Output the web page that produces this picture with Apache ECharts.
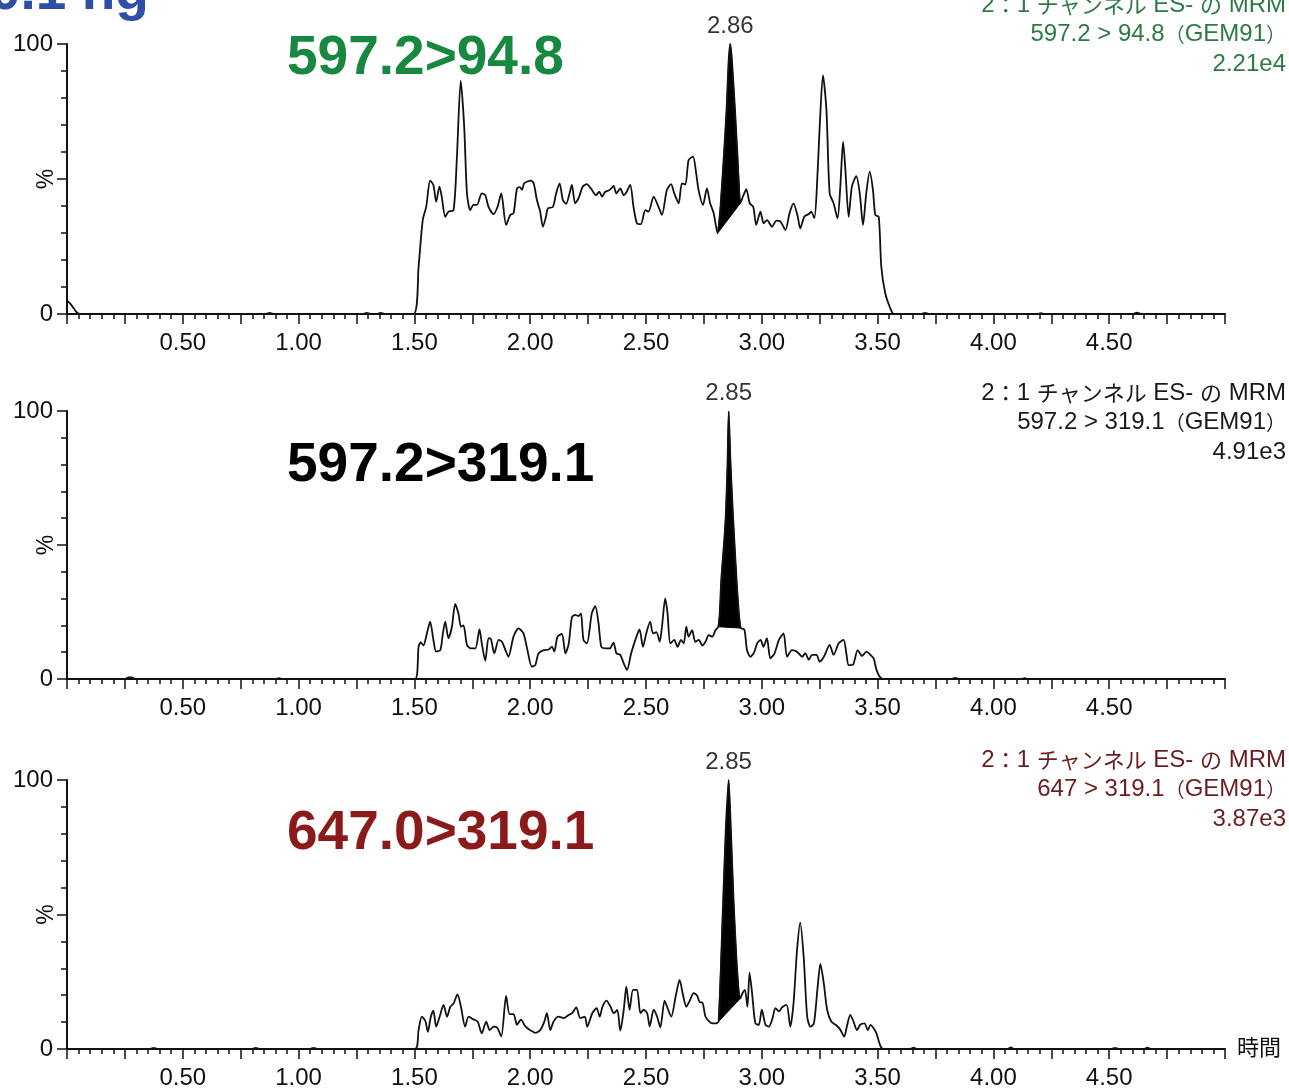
<!DOCTYPE html>
<html>
<head>
<meta charset="utf-8">
<script src="https://cdn.jsdelivr.net/npm/echarts@6/dist/echarts.min.js"></script>
<style>
html, body { margin: 0; padding: 0; background: #fff; }
#chart { width: 1289px; height: 1089px; }
</style>
</head>
<body>
<div id="chart"></div>
<script>
// retention time (min) / relative intensity (%)
var trace1 = [
    [0,4.8],[0.01,4.2],[0.02,3.2],[0.03,2.0],[0.04,0.8],[0.05,0.2],[0.06,0],
    [0.86,0],[0.875,0.4],[0.89,0],[1.28,0],[1.295,0.4],[1.31,0],[1.34,0],[1.355,0.4],[1.37,0],
    [1.496,0],[1.518,17.5],[1.536,34.8],[1.551,39.7],[1.568,49.4],[1.582,47.8],[1.594,41.6],[1.608,47.2],[1.618,43.5],
    [1.633,36],[1.647,37.9],[1.669,38.5],[1.683,57],[1.70,86.4],[1.715,69.4],[1.727,44.7],[1.741,38.5],[1.755,40.4],
    [1.77,40.4],[1.791,44.7],[1.806,44],[1.82,39.7],[1.842,37],[1.859,39.7],[1.875,44.7],[1.896,33],[1.914,36.7],
    [1.928,37.3],[1.943,46.5],[1.955,47],[1.965,46],[1.974,48.4],[2.003,49.4],[2.015,48.4],[2.029,42.2],[2.043,37.9],
    [2.055,32.3],[2.068,36],[2.076,39.1],[2.098,39.7],[2.112,44.7],[2.127,48.4],[2.141,42.2],[2.155,40.8],[2.17,44.7],
    [2.18,47.8],[2.194,41],[2.209,42.9],[2.227,47.2],[2.244,48.1],[2.262,46.5],[2.284,44],[2.298,45.3],[2.31,43.5],
    [2.324,45.3],[2.343,45.9],[2.36,47.4],[2.372,44.7],[2.389,46.5],[2.404,44],[2.415,45],[2.432,47.8],[2.446,39.7],
    [2.461,33.6],[2.478,33.3],[2.497,38.5],[2.511,37.9],[2.533,43.5],[2.554,39.7],[2.569,36.7],[2.59,45.9],[2.608,48.1],
    [2.622,44.7],[2.641,41],[2.655,48.4],[2.67,48],[2.684,57],[2.703,58.3],[2.717,51.9],[2.727,45.9],[2.746,40.4],
    [2.763,46.5],[2.777,41],[2.792,37.4],
    [2.809,29.9],[2.82,38],[2.835,57],[2.848,76],[2.857,94],[2.864,100],[2.871,94],[2.884,76],[2.896,57],[2.907,41],
    [2.921,44],[2.933,46.2],[2.948,41],[2.963,39.7],[2.976,33],[2.994,37.9],[3.008,33.6],[3.023,34.8],[3.044,32.3],
    [3.063,34.6],[3.08,34.3],[3.102,31.1],[3.12,37.4],[3.137,41],[3.155,36.1],[3.166,31.7],[3.184,36.1],[3.203,37],
    [3.213,37.9],[3.227,35.5],[3.238,47.2],[3.25,69.4],[3.264,88.5],[3.279,75.7],[3.293,44.7],[3.31,41],[3.327,35.4],
    [3.339,47.2],[3.351,63.8],[3.361,53.3],[3.375,36],[3.389,47.2],[3.408,51.1],[3.423,44.7],[3.437,33],[3.451,44.7],
    [3.466,52.7],[3.48,45.9],[3.49,36.7],[3.505,36],[3.516,17.5],[3.533,7.7],[3.555,2.1],[3.57,0],
    [3.69,0],[3.705,0.4],[3.72,0],[4.19,0],[4.205,0.3],[4.22,0],[4.6,0],[4.62,0.5],[4.64,0],[5,0]
];
var trace2 = [
    [0,0],[0.25,0],[0.265,0.6],[0.28,0.6],[0.295,0],[0.9,0],[0.915,0.3],[0.93,0],
    [1.503,0],[1.518,12],[1.527,13.7],[1.539,12.5],[1.554,17],[1.568,21.4],[1.582,14.6],[1.594,10.2],[1.612,10.8],
    [1.623,17],[1.633,21.4],[1.647,15.2],[1.662,19.5],[1.676,28],[1.69,24.5],[1.701,19.5],[1.712,20],[1.727,12.7],
    [1.744,11.4],[1.763,11.4],[1.781,18.5],[1.791,13.3],[1.806,6.8],[1.82,15.2],[1.83,15],[1.845,9.6],[1.864,14.6],
    [1.878,13.9],[1.893,10.8],[1.906,8.3],[1.928,15.8],[1.95,18.9],[1.971,17],[1.988,10.8],[2.007,4.6],[2.022,5.2],
    [2.036,9.6],[2.058,10.8],[2.08,11],[2.094,12.1],[2.104,10.2],[2.118,15.8],[2.137,16.8],[2.152,9.6],[2.166,13],
    [2.18,23],[2.194,23.9],[2.209,23.5],[2.219,24.5],[2.23,14.6],[2.245,13.3],[2.266,24.5],[2.281,27.2],[2.295,20.8],
    [2.307,12],[2.324,11.4],[2.343,11.4],[2.36,13.6],[2.372,9.6],[2.389,9],[2.404,5.8],[2.418,3.4],[2.436,9.6],
    [2.454,14.6],[2.472,18.5],[2.487,12],[2.501,17],[2.518,21.4],[2.53,17],[2.545,17.5],[2.559,13.9],[2.569,19.5],
    [2.583,30.1],[2.593,24.5],[2.605,13.3],[2.622,14.6],[2.636,12],[2.651,14.6],[2.663,13.3],[2.674,19.5],[2.684,15.8],
    [2.699,18.2],[2.713,13.9],[2.728,14.6],[2.743,12.5],[2.757,13.9],[2.771,16.4],[2.786,15.8],[2.8,18.2],
    [2.812,19.5],[2.818,24],[2.825,37],[2.838,52],[2.845,62],[2.852,80.5],[2.857,99.8],[2.865,80.5],[2.875,62],
    [2.891,37],[2.901,24.5],[2.909,19],
    [2.925,18.4],[2.936,10.8],[2.951,8.3],[2.966,9.8],[2.98,13.3],[2.995,14.6],[3.007,12],[3.022,15.2],[3.037,7.7],
    [3.055,9.6],[3.074,14.6],[3.094,17],[3.109,8.3],[3.13,10.8],[3.145,10.5],[3.159,9.6],[3.174,8.3],[3.188,9.6],
    [3.203,7.2],[3.217,9],[3.236,9],[3.25,6.5],[3.268,8.3],[3.293,12.7],[3.31,9],[3.332,13.3],[3.353,14.6],[3.365,9.6],
    [3.375,5.2],[3.394,5.4],[3.414,10.8],[3.433,8.6],[3.452,10.2],[3.469,9],[3.483,7.7],[3.495,3.4],[3.512,0.5],[3.525,0],
    [3.82,0],[3.835,0.4],[3.85,0],[4.12,0],[4.135,0.3],[4.15,0],[5,0]
];
var trace3 = [
    [0,0],[0.36,0],[0.375,0.4],[0.39,0],[0.8,0],[0.815,0.4],[0.83,0],[1.05,0],[1.065,0.4],[1.08,0],
    [1.503,0],[1.518,7],[1.532,12],[1.547,10.5],[1.558,6.4],[1.571,12],[1.582,14.3],[1.594,8.3],[1.609,12],[1.626,16.4],
    [1.641,12],[1.655,15.7],[1.669,16.9],[1.686,20.3],[1.701,15.7],[1.719,8.3],[1.734,12],[1.755,11],[1.773,10.2],
    [1.791,5.8],[1.81,10.2],[1.825,7],[1.842,8.3],[1.857,8],[1.875,4.7],[1.896,19.7],[1.911,13],[1.928,13],[1.943,9],
    [1.96,10.9],[1.979,8.4],[2.0,7],[2.022,6],[2.043,7],[2.061,10.2],[2.072,13.3],[2.087,7],[2.101,10.2],[2.123,12],
    [2.145,11.5],[2.167,12.7],[2.181,13.3],[2.199,15.5],[2.216,11.5],[2.236,12],[2.246,8.3],[2.268,13.3],[2.287,15.2],
    [2.3,12],[2.312,15.7],[2.329,18],[2.347,15.7],[2.361,13.3],[2.376,14.5],[2.389,6.8],[2.404,14.6],[2.415,23.2],
    [2.429,14.6],[2.444,22],[2.461,22],[2.476,13.3],[2.49,14.6],[2.505,13.3],[2.516,8.4],[2.533,14.6],[2.548,12],
    [2.562,8],[2.58,18],[2.591,15.7],[2.609,12],[2.628,19.5],[2.645,25.7],[2.66,20],[2.674,15.7],[2.689,18],
    [2.706,20.8],[2.721,19.8],[2.733,17.3],[2.743,17.3],[2.757,12],[2.779,9.8],[2.8,9.5],
    [2.8135,10.2],[2.8307,49.2],[2.8438,80.2],[2.8567,100],[2.867,80.2],[2.878,55.4],[2.890,34.3],[2.900,21.9],[2.907,18.8],
    [2.917,20.8],[2.927,22],[2.938,15.7],[2.947,28.4],[2.958,20.8],[2.972,9.6],[2.987,9],[3.0,14.6],[3.016,9],[3.03,8.3],
    [3.045,11],[3.059,15.2],[3.074,14],[3.088,15.5],[3.107,16.4],[3.123,8.3],[3.137,17],[3.152,36.6],[3.166,47],
    [3.181,34],[3.196,12],[3.21,8.3],[3.225,9.5],[3.24,22],[3.253,31.6],[3.268,24.2],[3.282,14.6],[3.3,10.2],[3.319,9],
    [3.338,7.3],[3.356,4.6],[3.367,8.3],[3.382,12.7],[3.396,10.2],[3.411,7],[3.425,9],[3.443,9.5],[3.458,7],[3.469,9],
    [3.483,7.7],[3.495,5.8],[3.512,1.2],[3.526,0],
    [3.64,0],[3.655,0.5],[3.67,0],[4.06,0],[4.075,0.6],[4.09,0],[4.51,0],[4.525,0.4],[4.54,0],[4.65,0],[4.665,0.5],[4.68,0],[5,0]
];

// integrated peak windows (start, end) and apex labels
var peakWindows = [[2.809, 2.907], [2.812, 2.909], [2.8135, 2.907]];
var peakApex = [[2.864, 100], [2.857, 99.8], [2.8567, 100]];
var peakLabels = ['2.86', '2.85', '2.85'];

var transitions = ['597.2>94.8', '597.2>319.1', '647.0>319.1'];
var channelLine = '{l|2}{c|：}{l|1 }{c|チャンネル}{l| ES- }{c|の}{l| MRM}';
var mrmLines = [
    '{l|597.2 > 94.8}{p|（}{l|GEM91}{p|）}',
    '{l|597.2 > 319.1}{p|（}{l|GEM91}{p|）}',
    '{l|647 > 319.1}{p|（}{l|GEM91}{p|）}'
];
var intensities = ['2.21e4', '4.91e3', '3.87e3'];
var titleColors = ['#17883f', '#000000', '#8b1a1a'];
var infoColors = ['#2e7a45', '#1a1a1a', '#6b1e1e'];

var traces = [trace1, trace2, trace3];
var gridTops = [44, 411, 780];
var gridHeights = [270, 268, 269];
var titleTops = [31, 438, 806];
var infoTops = [5, 393, 760];
var FONT = '"Liberation Sans", Arial, "Noto Sans CJK JP", sans-serif';
var CJK = '"Noto Sans CJK JP", sans-serif';
var INK = '#111';

var option = {
    animation: false,
    backgroundColor: '#fff',
    textStyle: { fontFamily: FONT },
    grid: [],
    xAxis: [],
    yAxis: [],
    series: [],
    graphic: []
};

for (var i = 0; i < 3; i++) {
    option.grid.push({
        left: 67, right: 64, top: gridTops[i], height: gridHeights[i],
        outerBoundsMode: 'none', containLabel: false
    });

    option.xAxis.push({
        type: 'value',
        gridIndex: i,
        min: 0,
        max: 5,
        interval: 0.25,
        name: i == 2 ? '時間' : '',
        nameLocation: 'end',
        nameGap: 12,
        nameMoveOverlap: false,
        nameTextStyle: { fontSize: 22, color: INK, fontFamily: FONT },
        axisLine: { show: true, lineStyle: { color: INK, width: 2 } },
        axisTick: { show: true, length: 10, lineStyle: { color: INK, width: 1.5 } },
        minorTick: { show: true, splitNumber: 5, length: 5, lineStyle: { color: INK, width: 1.5 } },
        splitLine: { show: false },
        axisLabel: {
            fontSize: 24,
            color: INK,
            margin: 17,
            fontFamily: FONT,
            formatter: function (v) {
                var half = Math.round(v * 2);
                if (Math.abs(v * 2 - half) > 1e-6 || v <= 0 || v >= 5) return '';
                return v.toFixed(2);
            }
        }
    });

    option.yAxis.push({
        type: 'value',
        gridIndex: i,
        min: 0,
        max: 100,
        interval: 50,
        name: '%',
        nameLocation: 'middle',
        nameGap: 9,
        nameRotate: 90,
        nameMoveOverlap: false,
        nameTextStyle: { fontSize: 23, color: INK, fontFamily: FONT },
        axisLine: { show: true, lineStyle: { color: INK, width: 2 } },
        axisTick: { show: true, length: 10, lineStyle: { color: INK, width: 1.5 } },
        minorTick: { show: true, splitNumber: 5, length: 6, lineStyle: { color: INK, width: 1.5 } },
        splitLine: { show: false },
        axisLabel: {
            fontSize: 24,
            color: INK,
            margin: 14,
            fontFamily: FONT,
            formatter: function (v) { return v == 50 ? '' : String(v); }
        }
    });

    // black filled peak area, closed along the straight integration baseline
    (function (idx) {
        var win = peakWindows[idx];
        var pts = traces[idx].filter(function (p) { return p[0] >= win[0] && p[0] <= win[1]; });
        option.series.push({
            type: 'custom',
            xAxisIndex: idx,
            yAxisIndex: idx,
            silent: true,
            z: 3,
            data: [peakApex[idx]],
            renderItem: function (params, api) {
                return {
                    type: 'polygon',
                    shape: { points: pts.map(function (p) { return api.coord(p); }) },
                    style: { fill: '#000', stroke: '#000', lineWidth: 1 }
                };
            }
        });
    })(i);

    option.series.push({
        type: 'line',
        xAxisIndex: i,
        yAxisIndex: i,
        data: traces[i],
        showSymbol: false,
        silent: true,
        smooth: 0.25,
        z: 4,
        lineStyle: { color: INK, width: 1.8 }
    });

    (function (idx) {
        option.series.push({
            type: 'scatter',
            xAxisIndex: idx,
            yAxisIndex: idx,
            data: [peakApex[idx]],
            symbolSize: 0,
            silent: true,
            label: {
                show: true,
                position: 'top',
                distance: 6,
                fontSize: 24,
                color: '#000',
                fontFamily: FONT,
                formatter: function () { return peakLabels[idx]; }
            }
        });
    })(i);

    option.graphic.push({
        type: 'text',
        left: 287,
        top: titleTops[i],
        style: {
            text: transitions[i],
            font: 'bold 55px ' + FONT,
            fill: titleColors[i]
        }
    });

    var infoTexts = [channelLine, mrmLines[i], '{l|' + intensities[i] + '}'];
    for (var k = 0; k < 3; k++) {
        option.graphic.push({
            type: 'text',
            x: 1286,
            y: infoTops[i] + k * 29.5,
            style: {
                text: infoTexts[k],
                fill: infoColors[i],
                align: 'right',
                verticalAlign: 'middle',
                rich: {
                    l: { fontSize: 24, fontFamily: FONT, fill: infoColors[i], lineHeight: 28, verticalAlign: 'middle' },
                    c: { fontSize: 22, fontFamily: CJK, fill: infoColors[i], lineHeight: 28, verticalAlign: 'middle' },
                    p: { fontSize: 20, fontFamily: CJK, fill: infoColors[i], lineHeight: 28, verticalAlign: 'middle' }
                }
            }
        });
    }
}

// sample label, clipped by the top edge of the picture
option.graphic.push({
    type: 'text',
    x: -10,
    y: -6,
    style: {
        text: '0.1 ng',
        font: 'bold 55px ' + FONT,
        fill: '#2f4fa6',
        verticalAlign: 'middle'
    }
});

var myChart = echarts.init(document.getElementById('chart'));
myChart.setOption(option);
</script>
</body>
</html>
